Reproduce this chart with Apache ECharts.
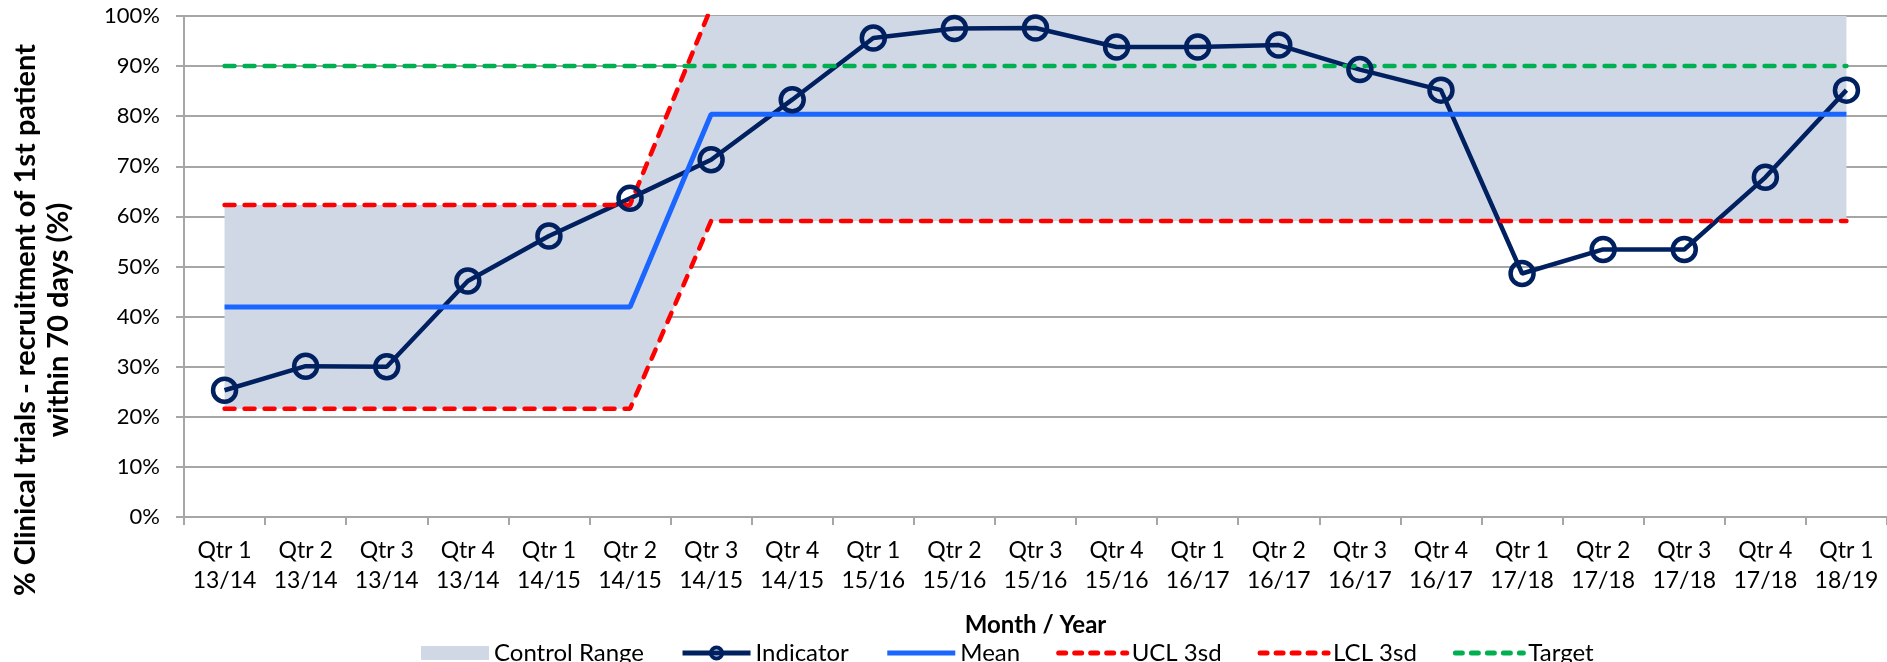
<!DOCTYPE html>
<html>
<head>
<meta charset="utf-8">
<title>Clinical trials - recruitment within 70 days</title>
<script src="https://cdn.jsdelivr.net/npm/echarts@6/dist/echarts.min.js"></script>
<style>
  html, body { margin: 0; padding: 0; background: #fff; }
  #chart { width: 1887px; height: 662px; }
</style>
</head>
<body>
<div id="chart"></div>
<script>
// quarters, x axis
var quarters = [
  'Qtr 1\n13/14', 'Qtr 2\n13/14', 'Qtr 3\n13/14', 'Qtr 4\n13/14',
  'Qtr 1\n14/15', 'Qtr 2\n14/15', 'Qtr 3\n14/15', 'Qtr 4\n14/15',
  'Qtr 1\n15/16', 'Qtr 2\n15/16', 'Qtr 3\n15/16', 'Qtr 4\n15/16',
  'Qtr 1\n16/17', 'Qtr 2\n16/17', 'Qtr 3\n16/17', 'Qtr 4\n16/17',
  'Qtr 1\n17/18', 'Qtr 2\n17/18', 'Qtr 3\n17/18', 'Qtr 4\n17/18',
  'Qtr 1\n18/19'
];

// values in %
var indicator = [25.3, 30.1, 30.0, 47.1, 56.1, 63.6, 71.3, 83.3, 95.6, 97.5, 97.6, 93.8,
                 93.8, 94.2, 89.3, 85.2, 48.6, 53.4, 53.4, 67.8, 85.2];
var mean   = [41.9, 41.9, 41.9, 41.9, 41.9, 41.9, 80.4, 80.4, 80.4, 80.4, 80.4, 80.4,
              80.4, 80.4, 80.4, 80.4, 80.4, 80.4, 80.4, 80.4, 80.4];
var ucl    = [62.3, 62.3, 62.3, 62.3, 62.3, 62.3, 101.7, 101.7, 101.7, 101.7, 101.7, 101.7,
              101.7, 101.7, 101.7, 101.7, 101.7, 101.7, 101.7, 101.7, 101.7];
var lcl    = [21.6, 21.6, 21.6, 21.6, 21.6, 21.6, 59.1, 59.1, 59.1, 59.1, 59.1, 59.1,
              59.1, 59.1, 59.1, 59.1, 59.1, 59.1, 59.1, 59.1, 59.1];
var target = [90, 90, 90, 90, 90, 90, 90, 90, 90, 90, 90, 90,
              90, 90, 90, 90, 90, 90, 90, 90, 90];

// y axis ticks
var yMin = 0, yMax = 100, yStep = 10;

// control range = band between LCL and UCL (stacked on LCL)
var band = ucl.map(function (u, i) { return u - lcl[i]; });

var font = 'Lato, "Noto Sans", sans-serif';
var gridColor = '#A6A6A6';
var noDot = { opacity: 0 };   // hide the dot ECharts puts on line legend icons

var chart = echarts.init(document.getElementById('chart'), null, { renderer: 'canvas' });

chart.setOption({
  animation: false,
  textStyle: { fontFamily: font, color: '#000' },
  grid: { left: 184, right: 0, top: 16, bottom: 145 },
  legend: {
    left: 416,
    top: 636,
    itemWidth: 68,
    itemHeight: 14,
    itemGap: 36,
    lineStyle: { width: 5 },
    textStyle: { fontFamily: font, fontSize: 24, color: '#000' },
    data: [
      { name: 'Control Range', icon: 'rect' },
      { name: 'Indicator', itemStyle: { borderWidth: 4 } },
      { name: 'Mean', itemStyle: noDot },
      { name: 'UCL 3sd', itemStyle: noDot, lineStyle: { type: [7, 9] } },
      { name: 'LCL 3sd', itemStyle: noDot, lineStyle: { type: [7, 9] } },
      { name: 'Target', itemStyle: noDot, lineStyle: { type: [7, 9] } }
    ]
  },
  graphic: [{
    type: 'text',
    x: 42,
    y: 320,
    rotation: Math.PI / 2,
    style: {
      text: '% Clinical trials - recruitment of 1st patient\nwithin 70 days (%)',
      fontFamily: font,
      fontSize: 29,
      fontWeight: 'bold',
      lineHeight: 33,
      fill: '#000',
      align: 'center',
      verticalAlign: 'middle'
    }
  }],
  xAxis: {
    type: 'category',
    data: quarters,
    boundaryGap: true,
    name: 'Month / Year',
    nameLocation: 'middle',
    nameGap: 96,
    nameTextStyle: { fontFamily: font, fontSize: 24, fontWeight: 'bold', color: '#000' },
    axisLine: { lineStyle: { color: gridColor, width: 2 } },
    axisTick: { show: true, length: 8, lineStyle: { color: gridColor, width: 2 } },
    axisLabel: { interval: 0, fontSize: 23, lineHeight: 30, margin: 19, color: '#000' }
  },
  yAxis: {
    type: 'value',
    min: yMin,
    max: yMax,
    interval: yStep,
    axisLine: { show: true, lineStyle: { color: gridColor, width: 2 } },
    axisTick: { show: true, length: 8, lineStyle: { color: gridColor, width: 2 } },
    axisLabel: { formatter: '{value}%', fontSize: 22, margin: 24, color: '#000' },
    splitLine: { show: true, lineStyle: { color: gridColor, width: 2 } }
  },
  series: [
    {
      name: '_lclBase',
      type: 'line',
      stack: 'range',
      data: lcl,
      symbol: 'none',
      silent: true,
      lineStyle: { width: 0, opacity: 0 }
    },
    {
      name: 'Control Range',
      type: 'line',
      stack: 'range',
      data: band,
      symbol: 'none',
      silent: true,
      itemStyle: { color: '#D0D8E6' },
      lineStyle: { width: 0, opacity: 0 },
      areaStyle: { color: '#D0D8E6', opacity: 1 }
    },
    {
      name: 'Indicator',
      type: 'line',
      data: indicator,
      symbol: 'circle',
      symbolSize: 23,
      itemStyle: { color: 'rgba(0,0,0,0)', borderColor: '#002060', borderWidth: 4.5 },
      lineStyle: { color: '#002060', width: 4.5 }
    },
    {
      name: 'Mean',
      type: 'line',
      data: mean,
      symbol: 'none',
      itemStyle: { color: '#1A66FF' },
      lineStyle: { color: '#1A66FF', width: 5 }
    },
    {
      name: 'UCL 3sd',
      type: 'line',
      data: ucl,
      symbol: 'none',
      itemStyle: { color: '#FF0000' },
      lineStyle: { color: '#FF0000', width: 4.5, type: [10, 10], cap: 'round' }
    },
    {
      name: 'LCL 3sd',
      type: 'line',
      data: lcl,
      symbol: 'none',
      itemStyle: { color: '#FF0000' },
      lineStyle: { color: '#FF0000', width: 4.5, type: [10, 10], cap: 'round' }
    },
    {
      name: 'Target',
      type: 'line',
      data: target,
      symbol: 'none',
      itemStyle: { color: '#00B050' },
      lineStyle: { color: '#00B050', width: 4.5, type: [10, 10], cap: 'round' }
    }
  ]
});
</script>
</body>
</html>
